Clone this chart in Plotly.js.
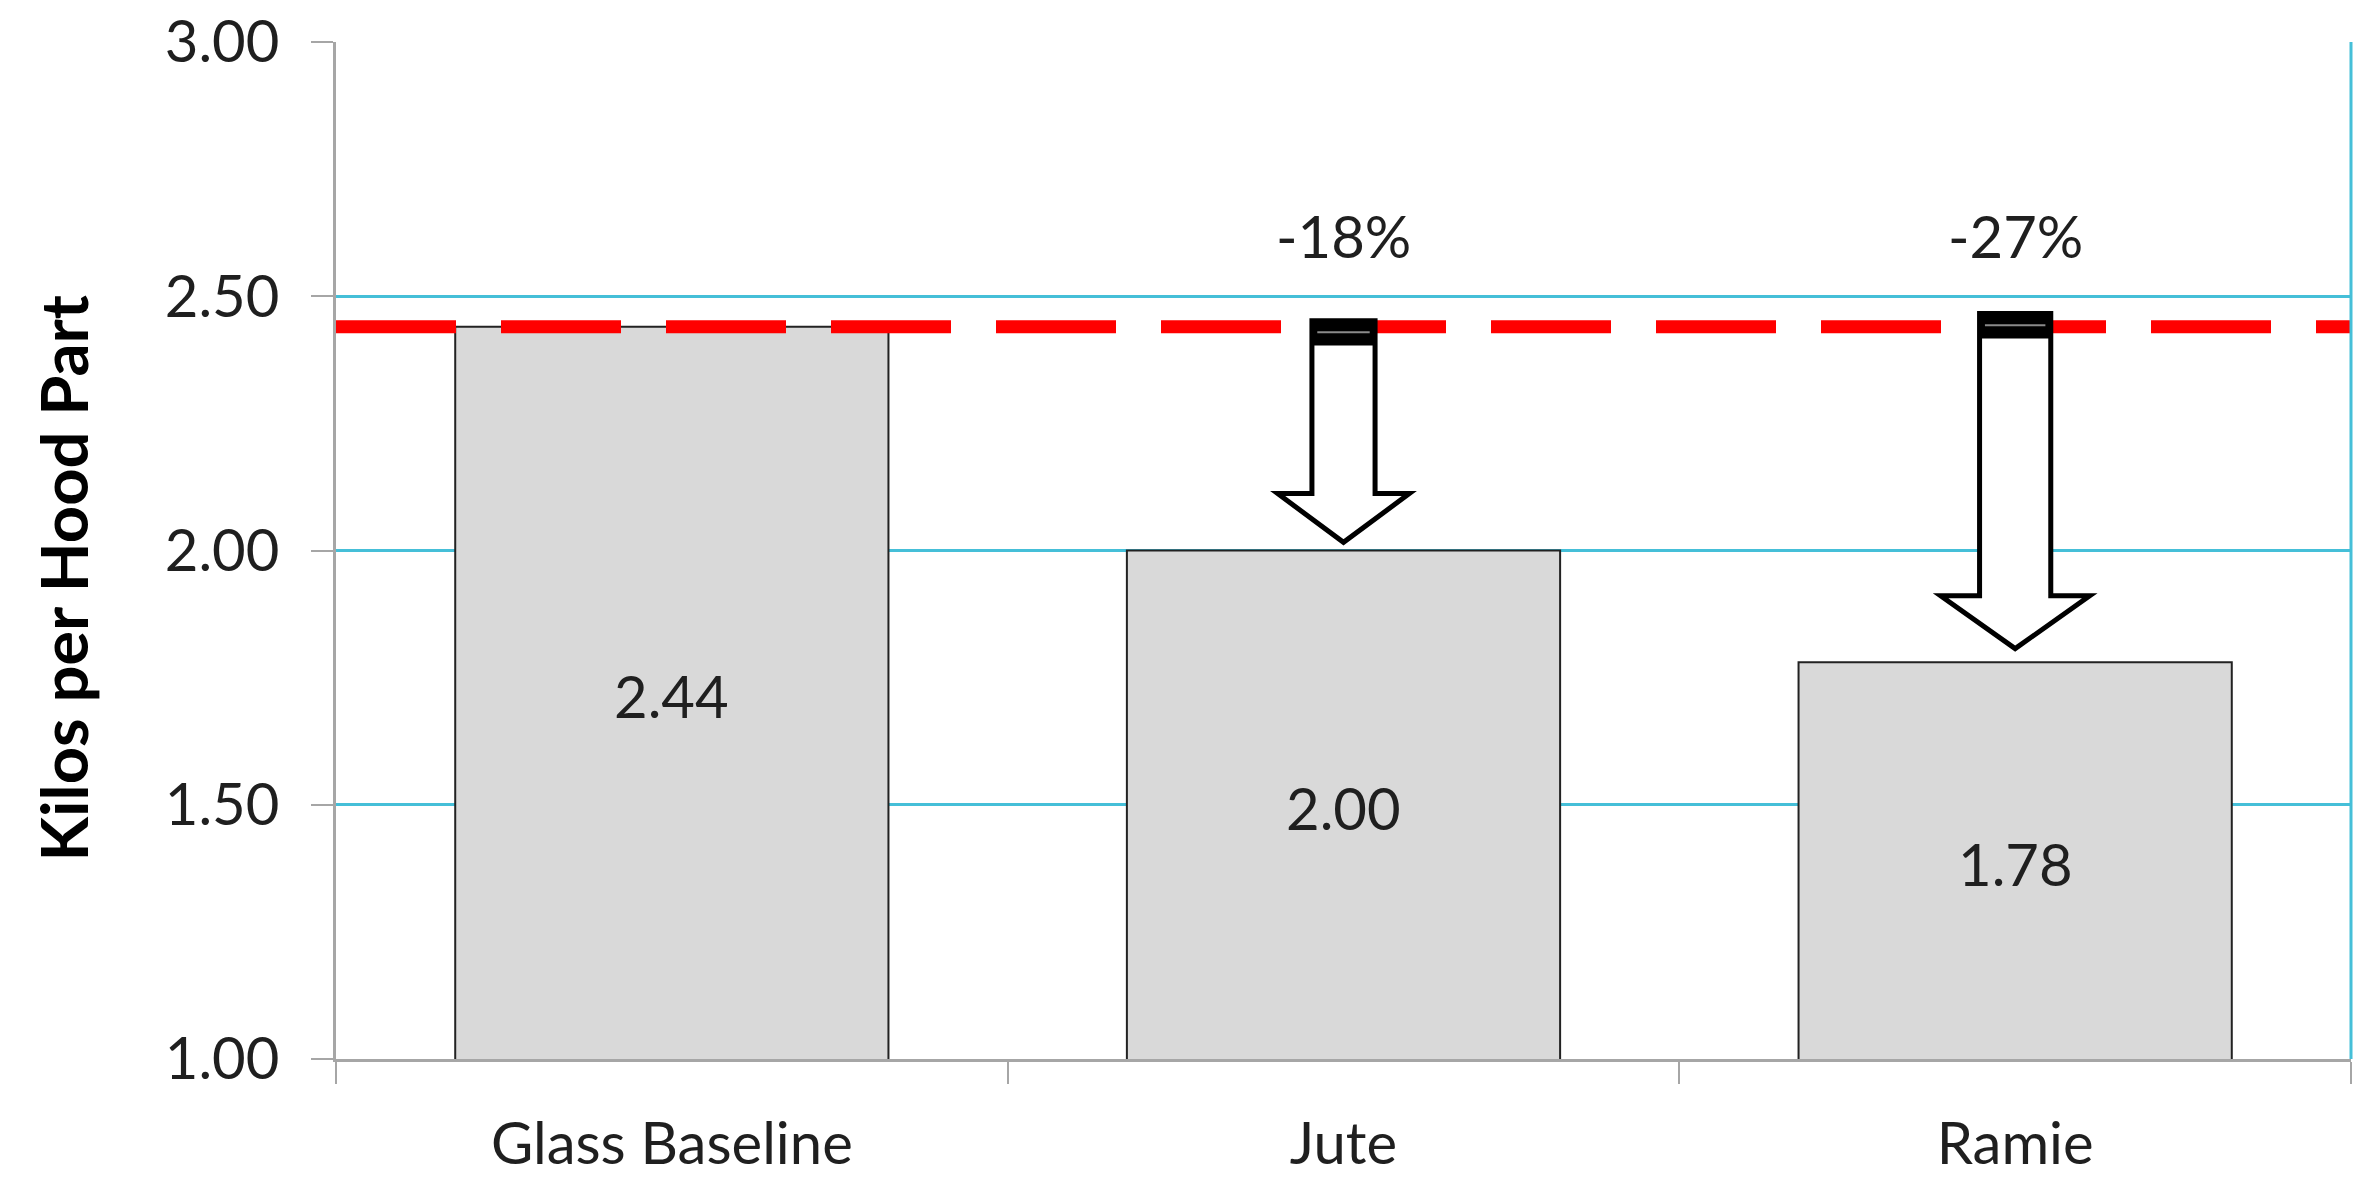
<!DOCTYPE html>
<html>
<head>
<meta charset="utf-8">
<script src="https://cdn.plot.ly/plotly-3.0.1.min.js"></script>
<style>html,body{margin:0;padding:0;background:#fff;}#chart{width:2375px;height:1195px;}</style>
</head>
<body>
<div id="chart"></div>
<script>
// ---- data ----
var categories = ["Glass Baseline", "Jute", "Ramie"];
var kilosPerPart = [2.44, 2.00, 1.78];
var yTickVals = [1.00, 1.50, 2.00, 2.50, 3.00];
var yTitle = "Kilos per Hood Part";

// ---- arrow styles (sizes only, per reduced category) ----
var arrowShaftHalf = [0, 0.047, 0.053];
var arrowHeadHalf = [0, 0.098, 0.111];
var arrowHeadLen = [0, 0.096, 0.104];
var arrowGap = [0, 0.016, 0.027];
var arrowTopOff = [0, 0.012, 0.026];

// ---- derived ----
var yRange = [1, 3];
var baseline = kilosPerPart[0];
var idx = categories.map(function (c, i) { return i; });
var boundaries = [-0.5].concat(idx.map(function (i) { return i + 0.5; }));

var FONT = "Lato, 'Open Sans', sans-serif";
var TXT = "#1f1f1f";
var CYAN = "#45bfd8";
var GRAY = "#a6a6a6";
var FS = 58;

var traces = [
  {
    type: "bar", x: idx, y: kilosPerPart, width: 0.645,
    marker: { color: "#d9d9d9", line: { color: "#222222", width: 2 } },
    hoverinfo: "skip", showlegend: false
  }
];

var annotations = [];
kilosPerPart.forEach(function (v, i) {
  annotations.push({
    xref: "x", yref: "y", x: idx[i], y: (yRange[0] + v) / 2, yshift: -3,
    text: v.toFixed(2), showarrow: false,
    font: { family: FONT, size: FS, color: TXT }
  });
  if (i > 0) {
    annotations.push({
      xref: "x", yref: "y", x: idx[i], y: 2.62,
      text: Math.round((v - baseline) / baseline * 100) + "%", showarrow: false,
      font: { family: FONT, size: FS, color: TXT }
    });
  }
});
annotations.push({
  xref: "paper", yref: "paper", x: 0, y: 0.5, xshift: -274, yshift: -28,
  xanchor: "center", yanchor: "middle", textangle: -90,
  text: yTitle, showarrow: false,
  font: { family: FONT, size: 65, color: "#000", weight: "bold" }
});

// ---- shapes ----
var shapes = [];
shapes.push({
  type: "line", xref: "paper", x0: 0, x1: 1, yref: "y", y0: baseline, y1: baseline,
  line: { color: "#ff0000", width: 13, dash: "120px,45px" }, layer: "above"
});
shapes.push({
  type: "line", xref: "paper", x0: 1, x1: 1, yref: "paper", y0: 0, y1: 1,
  line: { color: CYAN, width: 3 }, layer: "above"
});
var band = 0.046;
for (var k = 1; k < kilosPerPart.length; k++) {
  var c = idx[k], sw = arrowShaftHalf[k], hw = arrowHeadHalf[k];
  var aTop = baseline + arrowTopOff[k];
  var tip = kilosPerPart[k] + arrowGap[k], neck = tip + arrowHeadLen[k];
  var p = "M" + (c - sw) + "," + aTop + " L" + (c + sw) + "," + aTop +
          " L" + (c + sw) + "," + neck + " L" + (c + hw) + "," + neck +
          " L" + c + "," + tip + " L" + (c - hw) + "," + neck +
          " L" + (c - sw) + "," + neck + " Z";
  shapes.push({ type: "path", xref: "x", yref: "y", path: p,
    fillcolor: "#ffffff", line: { color: "#000000", width: 5 }, layer: "above" });
  shapes.push({ type: "rect", xref: "x", yref: "y", x0: c - sw, x1: c + sw, y0: aTop - band, y1: aTop,
    fillcolor: "#000000", line: { color: "#000000", width: 3 }, layer: "above" });
  shapes.push({ type: "line", xref: "x", yref: "y", x0: c - sw + 0.008, x1: c + sw - 0.008,
    y0: aTop - band * 0.5, y1: aTop - band * 0.5,
    line: { color: "#8a8a8a", width: 2 }, layer: "above" });
}

var layout = {
  width: 2375, height: 1195,
  margin: { l: 336, r: 24, t: 42, b: 136, pad: 0 },
  paper_bgcolor: "#ffffff", plot_bgcolor: "#ffffff",
  showlegend: false,
  font: { family: FONT, color: TXT },
  xaxis: {
    type: "linear", range: [-0.5, 2.5], showgrid: false, zeroline: false,
    tickvals: idx, ticktext: categories, ticks: "",
    showline: true, linecolor: GRAY, linewidth: 3,
    tickfont: { family: FONT, size: FS, color: TXT }, ticklabelstandoff: 32,
    minor: { tickvals: boundaries, ticks: "outside", ticklen: 22, tickcolor: GRAY, tickwidth: 2, showgrid: false },
    fixedrange: true
  },
  yaxis: {
    range: yRange, tickvals: yTickVals, tickformat: ".2f",
    showgrid: true, gridcolor: CYAN, gridwidth: 3, zeroline: false,
    showline: true, linecolor: GRAY, linewidth: 3,
    ticks: "outside", ticklen: 22, tickcolor: GRAY, tickwidth: 2,
    tickfont: { family: FONT, size: FS, color: TXT }, ticklabelstandoff: 20,
    fixedrange: true
  },
  annotations: annotations,
  shapes: shapes
};

Plotly.newPlot("chart", traces, layout, { displayModeBar: false, staticPlot: true });
</script>
</body>
</html>
